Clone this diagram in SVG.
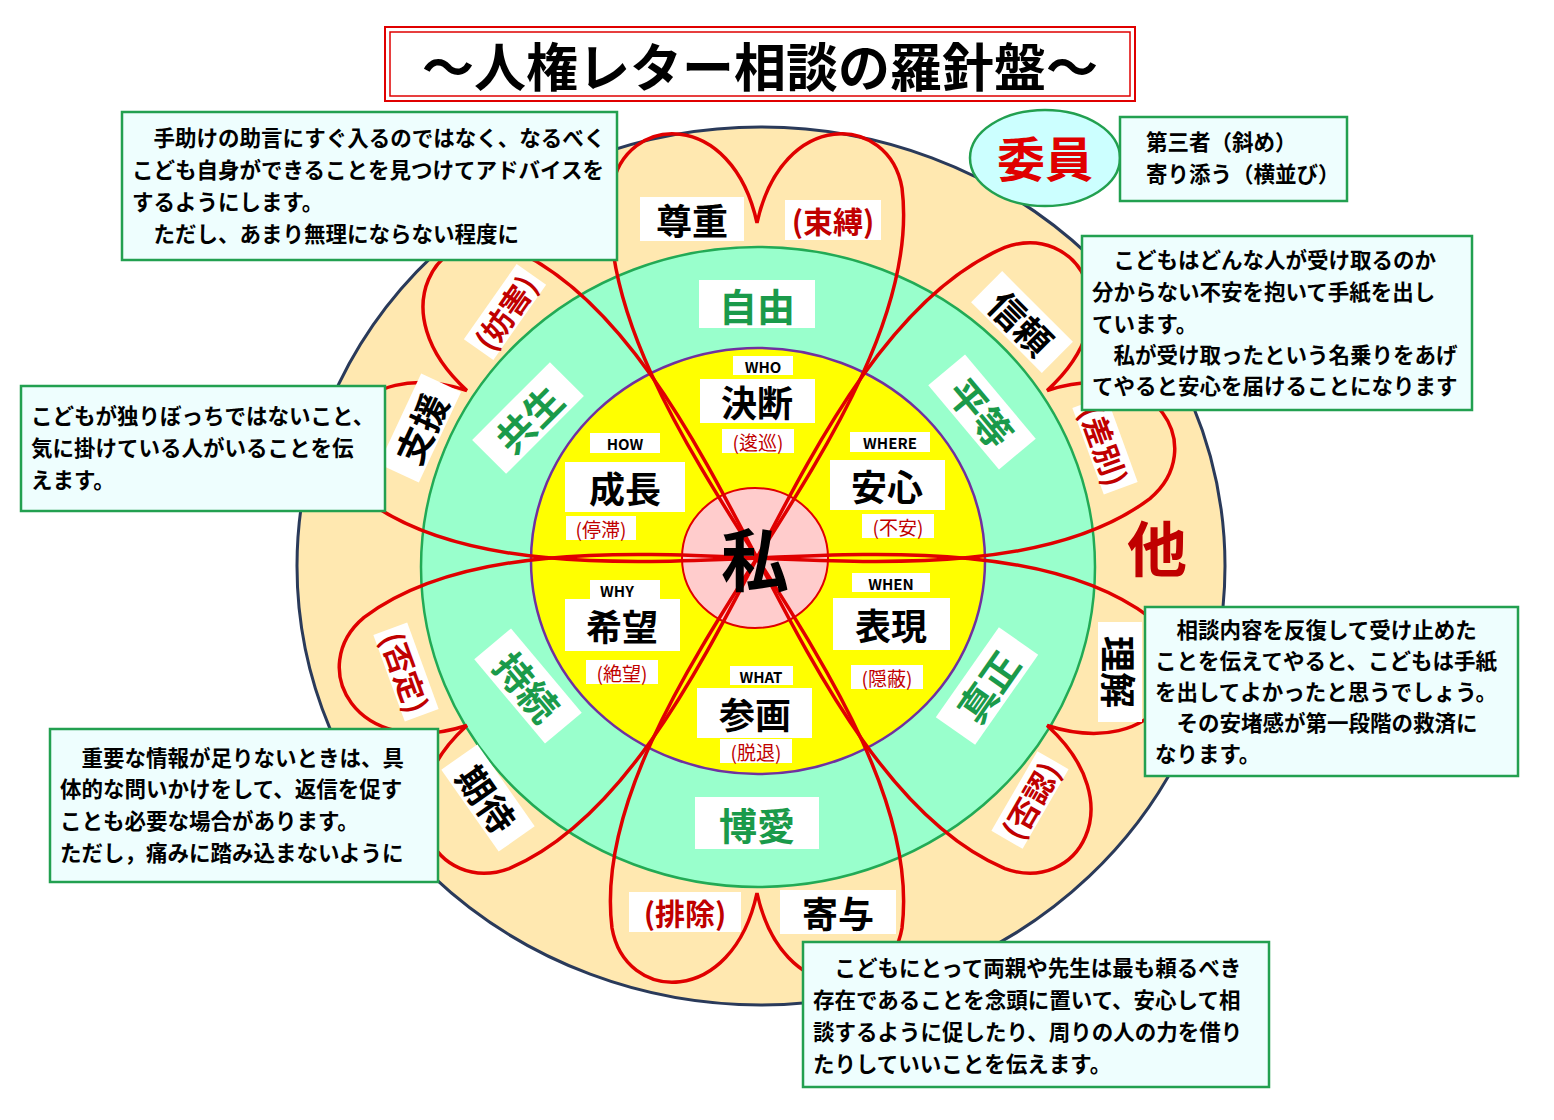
<svg xmlns="http://www.w3.org/2000/svg" width="1554" height="1120" viewBox="0 0 1554 1120">
<style>
text{font-family:"Noto Sans CJK JP","Liberation Sans",sans-serif;font-weight:bold}
.big{font-size:36px;fill:#000;text-anchor:middle;dominant-baseline:central}
.red{font-size:30px;fill:#c00000;text-anchor:middle;dominant-baseline:central}
.grn{font-size:38px;fill:#1a9a4a;text-anchor:middle;dominant-baseline:central}
.sm{font-size:15px;fill:#000;text-anchor:middle;dominant-baseline:central}
.sred{font-size:19px;fill:#c00000;text-anchor:middle;dominant-baseline:central;font-weight:normal}
.note{font-size:21.5px;fill:#000}
.box{fill:#eefefe;stroke:#22a050;stroke-width:2.5}
.wb{fill:#fff}
.petal{fill:none;stroke:#e00000;stroke-width:3.5}
</style>
<defs>
<path id="heart" d="M0,0 C-70,-110 -160,-250 -145,-370 C-132,-445 -25,-450 0,-335 C25,-450 132,-445 145,-370 C160,-250 70,-110 0,0 Z"/>
</defs>
<rect width="1554" height="1120" fill="#fff"/>
<g id="circles">
<ellipse cx="761" cy="566" rx="464" ry="439" fill="#ffe8b0" stroke="#2a3a5a" stroke-width="3"/>
<ellipse cx="758" cy="567" rx="337" ry="320" fill="#99ffcc" stroke="#22aa55" stroke-width="2.5"/>
<ellipse cx="758" cy="561" rx="227" ry="213" fill="#ffff00" stroke="#7030a0" stroke-width="2.5"/>
<ellipse cx="755" cy="558" rx="73" ry="70" fill="#ffcccc" stroke="#e00000" stroke-width="2"/>
</g>
<g id="connectors" transform="translate(757,558)">
<use href="#heart" class="petal" transform="rotate(0)"/>
<use href="#heart" class="petal" transform="rotate(60)"/>
<use href="#heart" class="petal" transform="rotate(120)"/>
<use href="#heart" class="petal" transform="rotate(180)"/>
<use href="#heart" class="petal" transform="rotate(240)"/>
<use href="#heart" class="petal" transform="rotate(300)"/>
</g>
<g id="title">
<rect x="385" y="27" width="750" height="74" fill="#fff" stroke="#e00000" stroke-width="2"/>
<rect x="390" y="32" width="740" height="64" fill="none" stroke="#e00000" stroke-width="1.5"/>
<text x="760" y="64" style="font-size:52px;text-anchor:middle;dominant-baseline:central">～人権レター相談の羅針盤～</text>
</g>
<g id="outer-labels">
<g transform="translate(692,219)"><rect class="wb" x="-52" y="-22" width="104" height="44"/><text class="big">尊重</text></g>
<g transform="translate(833,220)"><rect class="wb" x="-48" y="-20" width="96" height="40"/><text class="red">(束縛)</text></g>
<g transform="translate(1022,322) rotate(45)"><rect class="wb" x="-50" y="-22" width="100" height="44"/><text class="big">信頼</text></g>
<g transform="translate(1105,445) rotate(70)"><rect class="wb" x="-46" y="-18" width="92" height="36"/><text class="red">(差別)</text></g>
<text x="1157" y="545" style="font-size:60px;fill:#c00000;text-anchor:middle;dominant-baseline:central">他</text>
<g transform="translate(1120,672) rotate(90)"><rect class="wb" x="-50" y="-22" width="100" height="44"/><text class="big">理解</text></g>
<g transform="translate(1030,800) rotate(-60)"><rect class="wb" x="-46" y="-18" width="92" height="36"/><text class="red">(否認)</text></g>
<g transform="translate(838,912)"><rect class="wb" x="-58" y="-22" width="116" height="44"/><text class="big">寄与</text></g>
<g transform="translate(685,912)"><rect class="wb" x="-56" y="-20" width="112" height="40"/><text class="red">(排除)</text></g>
<g transform="translate(488,798) rotate(55)"><rect class="wb" x="-50" y="-22" width="100" height="44"/><text class="big">期待</text></g>
<g transform="translate(406,672) rotate(70)"><rect class="wb" x="-46" y="-18" width="92" height="36"/><text class="red">(否定)</text></g>
<g transform="translate(420,428) rotate(-65)"><rect class="wb" x="-50" y="-22" width="100" height="44"/><text class="big">支援</text></g>
<g transform="translate(505,312) rotate(-55)"><rect class="wb" x="-46" y="-18" width="92" height="36"/><text class="red">(妨害)</text></g>
</g>
<g id="green-labels">
<g transform="translate(757,304)"><rect class="wb" x="-58" y="-24" width="116" height="48"/><text class="grn">自由</text></g>
<g transform="translate(982,412) rotate(50)"><rect class="wb" x="-55" y="-24" width="110" height="48"/><text class="grn">平等</text></g>
<g transform="translate(987,686) rotate(-55)"><rect class="wb" x="-55" y="-24" width="110" height="48"/><text class="grn">真正</text></g>
<g transform="translate(757,823)"><rect class="wb" x="-62" y="-26" width="124" height="52"/><text class="grn">博愛</text></g>
<g transform="translate(528,686) rotate(50)"><rect class="wb" x="-55" y="-24" width="110" height="48"/><text class="grn">持続</text></g>
<g transform="translate(528,418) rotate(-45)"><rect class="wb" x="-55" y="-24" width="110" height="48"/><text class="grn">共生</text></g>
</g>
<g id="inner-labels">
<g id="n-who"><rect class="wb" x="733" y="356" width="60" height="19"/><text class="sm" x="763" y="366">WHO</text>
<rect class="wb" x="700" y="379" width="115" height="44"/><text class="big" x="757" y="401">決断</text>
<rect class="wb" x="722" y="429" width="72" height="24"/><text class="sred" x="758" y="441">(逡巡)</text></g>
<g id="n-how"><rect class="wb" x="590" y="433" width="70" height="20"/><text class="sm" x="625" y="443">HOW</text>
<rect class="wb" x="565" y="462" width="120" height="50"/><text class="big" x="625" y="487">成長</text>
<rect class="wb" x="566" y="516" width="70" height="24"/><text class="sred" x="601" y="528">(停滞)</text></g>
<g id="n-where"><rect class="wb" x="850" y="432" width="80" height="20"/><text class="sm" x="890" y="442">WHERE</text>
<rect class="wb" x="830" y="460" width="115" height="50"/><text class="big" x="887" y="485">安心</text>
<rect class="wb" x="862" y="514" width="72" height="24"/><text class="sred" x="898" y="526">(不安)</text></g>
<g id="n-why"><rect class="wb" x="590" y="580" width="70" height="19"/><text class="sm" x="617" y="590">WHY</text>
<rect class="wb" x="565" y="599" width="115" height="52"/><text class="big" x="622" y="625">希望</text>
<rect class="wb" x="586" y="660" width="72" height="24"/><text class="sred" x="622" y="672">(絶望)</text></g>
<g id="n-when"><rect class="wb" x="852" y="573" width="78" height="19"/><text class="sm" x="891" y="583">WHEN</text>
<rect class="wb" x="833" y="598" width="117" height="52"/><text class="big" x="891" y="624">表現</text>
<rect class="wb" x="851" y="665" width="72" height="24"/><text class="sred" x="887" y="677">(隠蔽)</text></g>
<g id="n-what"><rect class="wb" x="730" y="666" width="63" height="19"/><text class="sm" x="761" y="676">WHAT</text>
<rect class="wb" x="697" y="688" width="115" height="50"/><text class="big" x="755" y="713">参画</text>
<rect class="wb" x="720" y="739" width="72" height="24"/><text class="sred" x="756" y="751">(脱退)</text></g>
<g id="n-me"><text x="755" y="556" style="font-size:68px;text-anchor:middle;dominant-baseline:central">私</text></g>
</g>
<g id="iin">
<ellipse cx="1045" cy="158" rx="75" ry="48" fill="#ccffff" stroke="#22a050" stroke-width="2.5"/>
<text x="1045" y="156" style="font-size:48px;fill:#e00000;text-anchor:middle;dominant-baseline:central">委員</text>
<rect class="box" x="1120" y="117" width="227" height="84"/>
<text class="note" x="1146" y="150">第三者（斜め）</text>
<text class="note" x="1146" y="182">寄り添う（横並び）</text>
</g>
<g id="note1"><rect class="box" x="122" y="112" width="495" height="148"/>
<text class="note" x="132" y="146">　手助けの助言にすぐ入るのではなく、なるべく</text>
<text class="note" x="132" y="178">こども自身ができることを見つけてアドバイスを</text>
<text class="note" x="132" y="210">するようにします。</text>
<text class="note" x="132" y="242">　ただし、あまり無理にならない程度に</text></g>
<g id="note2"><rect class="box" x="1082" y="236" width="390" height="174"/>
<text class="note" x="1092" y="268">　こどもはどんな人が受け取るのか</text>
<text class="note" x="1092" y="300">分からない不安を抱いて手紙を出し</text>
<text class="note" x="1092" y="332">ています。</text>
<text class="note" x="1092" y="363">　私が受け取ったという名乗りをあげ</text>
<text class="note" x="1092" y="394">てやると安心を届けることになります</text></g>
<g id="note3"><rect class="box" x="21" y="386" width="364" height="125"/>
<text class="note" x="31" y="424">こどもが独りぼっちではないこと、</text>
<text class="note" x="31" y="456">気に掛けている人がいることを伝</text>
<text class="note" x="31" y="488">えます。</text></g>
<g id="note4"><rect class="box" x="1145" y="607" width="373" height="169"/>
<text class="note" x="1155" y="638">　相談内容を反復して受け止めた</text>
<text class="note" x="1155" y="669">ことを伝えてやると、こどもは手紙</text>
<text class="note" x="1155" y="700">を出してよかったと思うでしょう。</text>
<text class="note" x="1155" y="731">　その安堵感が第一段階の救済に</text>
<text class="note" x="1155" y="762">なります。</text></g>
<g id="note5"><rect class="box" x="50" y="729" width="388" height="153"/>
<text class="note" x="60" y="766">　重要な情報が足りないときは、具</text>
<text class="note" x="60" y="797">体的な問いかけをして、返信を促す</text>
<text class="note" x="60" y="829">ことも必要な場合があります。</text>
<text class="note" x="60" y="861">ただし，痛みに踏み込まないように</text></g>
<g id="note6"><rect class="box" x="803" y="942" width="466" height="145"/>
<text class="note" x="813" y="976">　こどもにとって両親や先生は最も頼るべき</text>
<text class="note" x="813" y="1008">存在であることを念頭に置いて、安心して相</text>
<text class="note" x="813" y="1040">談するように促したり、周りの人の力を借り</text>
<text class="note" x="813" y="1072">たりしていいことを伝えます。</text></g>
</svg>
